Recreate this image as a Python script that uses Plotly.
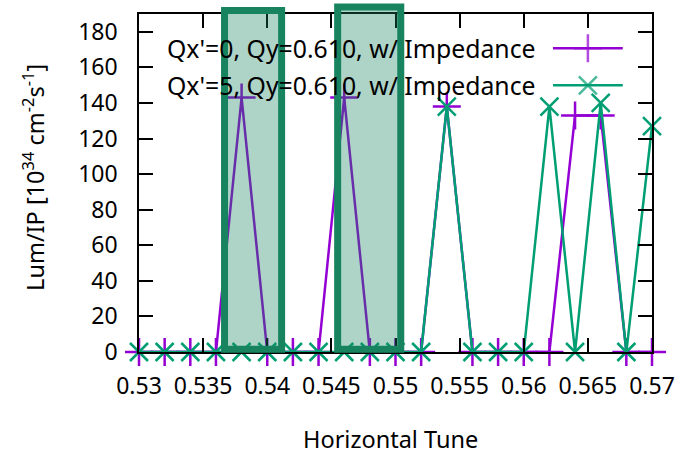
import plotly.graph_objects as go

# Horizontal tune scan (step 0.002) and luminance per IP
tune = [0.530, 0.532, 0.534, 0.536, 0.538, 0.540, 0.542, 0.544, 0.546, 0.548,
        0.550, 0.552, 0.554, 0.556, 0.558, 0.560, 0.562, 0.564, 0.566, 0.568, 0.570]
lum_qx0 = [0, 0, 0, 0, 143, 0, 0, 0, 143, 0,
           0, 0, 138, 0, 0, 0, 0, 133, 133, 0, 0]
lum_qx5 = [0, 0, 0, 0, 0, 0, 0, 0, 0, 0,
           0, 0, 138, 0, 0, 0, 138, 0, 140, 0, 127]

series_names = ["Qx'=0, Qy=0.610, w/ Impedance", "Qx'=5, Qy=0.610, w/ Impedance"]
x_ticks = [0.53, 0.535, 0.54, 0.545, 0.55, 0.555, 0.56, 0.565, 0.57]
x_tick_text = ["0.53", "0.535", "0.54", "0.545", "0.55", "0.555", "0.56", "0.565", "0.57"]
y_ticks = [0, 20, 40, 60, 80, 100, 120, 140, 160, 180]

# Highlighted tune windows (x0, x1, top in paper units)
highlight_ranges = [(0.53667, 0.54112, 1.010), (0.54549, 0.55041, 1.021)]

PURPLE = "#9400d3"
GREEN = "#009e73"
FONT = "Noto Sans"

fig = go.Figure()

fig.add_trace(go.Scatter(
    x=tune, y=lum_qx0, mode="lines+markers", name=series_names[0],
    line=dict(color=PURPLE, width=2.5),
    marker=dict(symbol="cross-thin", size=20, color=PURPLE,
                line=dict(color=PURPLE, width=2.5)),
    cliponaxis=False, showlegend=False,
))
fig.add_trace(go.Scatter(
    x=tune, y=lum_qx5, mode="lines+markers", name=series_names[1],
    line=dict(color=GREEN, width=2.5),
    marker=dict(symbol="x-thin", size=18, color=GREEN,
                line=dict(color=GREEN, width=2.5)),
    cliponaxis=False, showlegend=False,
))

# Key: text on the left, sample line with marker on the right
key_rows = [0.899, 0.789]
key_styles = [(PURPLE, "cross-thin", 20), (GREEN, "x-thin", 18)]
for name, row, (col, sym, sz) in zip(series_names, key_rows, key_styles):
    fig.add_trace(go.Scatter(
        x=[0.807, 0.875, 0.943], y=[row, row, row], mode="lines+markers",
        xaxis="x2", yaxis="y2",
        line=dict(color=col, width=2.5),
        marker=dict(symbol=sym, size=[0, sz, 0], color=col,
                    line=dict(color=col, width=2.5)),
        showlegend=False, hoverinfo="skip",
    ))
    fig.add_annotation(
        text=name, xref="paper", yref="paper", x=0.778, y=row,
        xanchor="right", yanchor="middle", showarrow=False,
        font=dict(family=FONT, size=24.8, color="black"),
    )

for x0, x1, top in highlight_ranges:
    fig.add_shape(
        type="rect", xref="x", yref="paper", x0=x0, x1=x1, y0=0.008, y1=top,
        line=dict(color="#18845f", width=7),
        fillcolor="rgba(24,132,95,0.35)", layer="above",
    )

axis_common = dict(
    showline=True, linecolor="black", linewidth=1.5, mirror="ticks",
    ticks="inside", ticklen=14, tickwidth=1.5, tickcolor="black",
    showgrid=False, zeroline=False,
    tickfont=dict(family=FONT, size=23, color="black"),
)

fig.update_layout(
    width=689, height=455,
    margin=dict(l=139, r=37, t=14, b=103),
    paper_bgcolor="white", plot_bgcolor="white",
    xaxis=dict(range=[0.53, 0.57], tickvals=x_ticks, ticktext=x_tick_text,
               ticklabelstandoff=13, **axis_common),
    yaxis=dict(range=[0, 190], tickvals=y_ticks, ticklabelstandoff=15,
               **axis_common),
    xaxis2=dict(range=[0, 1], overlaying="x", anchor="y2", visible=False),
    yaxis2=dict(range=[0, 1], overlaying="y", anchor="x2", visible=False),
)

fig.add_annotation(
    text="Horizontal Tune", xref="paper", yref="paper", x=0.491, y=-0.256,
    xanchor="center", yanchor="middle", showarrow=False,
    font=dict(family=FONT, size=23.5, color="black"),
)
fig.add_annotation(
    text="Lum/IP [10<sup>34</sup> cm<sup>-2</sup>s<sup>-1</sup>]",
    xref="paper", yref="paper", x=0, y=0.515, xshift=-105,
    xanchor="center", yanchor="middle", textangle=-90, showarrow=False,
    font=dict(family=FONT, size=23.5, color="black"),
)

fig.write_html("out.html")
